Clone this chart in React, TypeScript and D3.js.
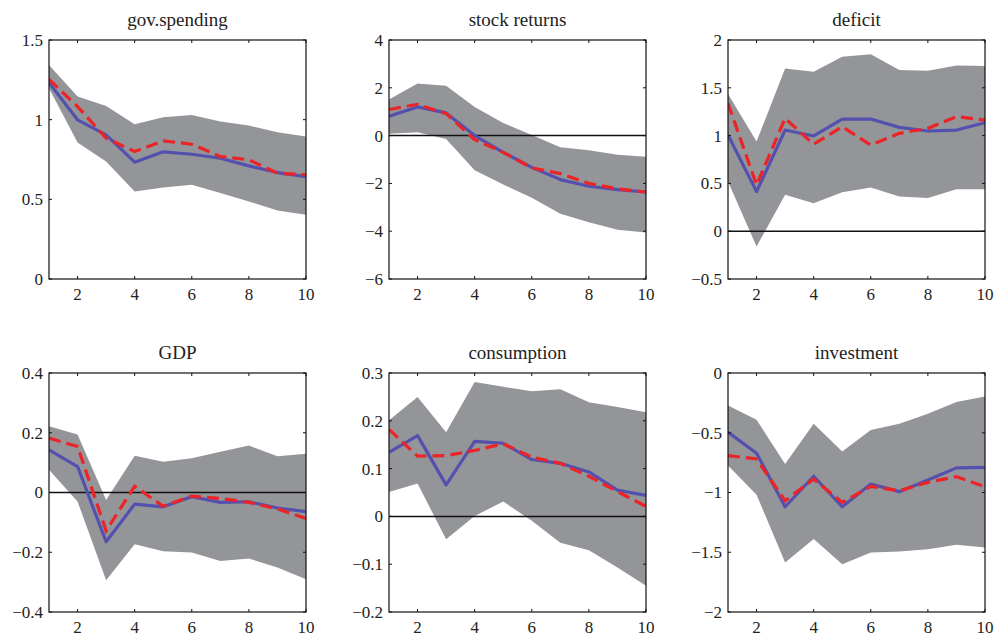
import React from "react";
import * as d3 from "d3";

// Impulse-response panels: horizon 1..10
const horizons = [1, 2, 3, 4, 5, 6, 7, 8, 9, 10];
const xTicks = [2, 4, 6, 8, 10];

const titles = ["gov.spending", "stock returns", "deficit", "GDP", "consumption", "investment"];

const yDomains: [number, number][] = [
  [0, 1.5],
  [-6, 4],
  [-0.5, 2],
  [-0.4, 0.4],
  [-0.2, 0.3],
  [-2, 0],
];

const yTicks: number[][] = [
  [0, 0.5, 1, 1.5],
  [-6, -4, -2, 0, 2, 4],
  [-0.5, 0, 0.5, 1, 1.5, 2],
  [-0.4, -0.2, 0, 0.2, 0.4],
  [-0.2, -0.1, 0, 0.1, 0.2, 0.3],
  [-2, -1.5, -1, -0.5, 0],
];

const bandUpper: number[][] = [
  [1.343, 1.145, 1.086, 0.971, 1.015, 1.03, 0.988, 0.963, 0.921, 0.894],
  [1.51, 2.18, 2.09, 1.2, 0.53, 0.02, -0.49, -0.61, -0.8, -0.89],
  [1.435, 0.937, 1.703, 1.668, 1.825, 1.852, 1.685, 1.678, 1.734, 1.727],
  [0.222, 0.194, -0.025, 0.123, 0.103, 0.115, 0.136, 0.157, 0.121, 0.13],
  [0.201, 0.25, 0.176, 0.281, 0.271, 0.262, 0.266, 0.239, 0.229, 0.218],
  [-0.271, -0.392, -0.761, -0.425, -0.657, -0.476, -0.425, -0.341, -0.243, -0.196],
];

const bandLower: number[][] = [
  [1.197, 0.857, 0.737, 0.549, 0.574, 0.591, 0.539, 0.487, 0.43, 0.403],
  [0.08, 0.14, -0.14, -1.45, -2.05, -2.6, -3.27, -3.63, -3.94, -4.05],
  [0.519, -0.16, 0.38, 0.293, 0.408, 0.457, 0.363, 0.348, 0.439, 0.439],
  [0.076, -0.03, -0.294, -0.173, -0.197, -0.201, -0.229, -0.221, -0.251, -0.29],
  [0.051, 0.069, -0.048, 0.001, 0.031, -0.009, -0.055, -0.071, -0.107, -0.145],
  [-0.775, -1.018, -1.586, -1.39, -1.6, -1.502, -1.494, -1.474, -1.438, -1.46],
];

const blueSeries: number[][] = [
  [1.232, 0.999, 0.905, 0.733, 0.798, 0.783, 0.758, 0.71, 0.668, 0.643],
  [0.81, 1.2, 0.95, 0.0, -0.7, -1.33, -1.84, -2.12, -2.26, -2.36],
  [1.006, 0.414, 1.058, 0.996, 1.173, 1.173, 1.086, 1.048, 1.058, 1.135],
  [0.143, 0.087, -0.165, -0.039, -0.048, -0.014, -0.033, -0.031, -0.052, -0.064],
  [0.134, 0.169, 0.066, 0.157, 0.153, 0.119, 0.111, 0.093, 0.055, 0.044],
  [-0.495, -0.671, -1.119, -0.864, -1.119, -0.929, -0.993, -0.895, -0.794, -0.789],
];

const redSeries: number[][] = [
  [1.253, 1.082, 0.884, 0.8, 0.867, 0.846, 0.769, 0.748, 0.664, 0.654],
  [1.09, 1.31, 0.92, -0.17, -0.7, -1.35, -1.59, -2.0, -2.23, -2.36],
  [1.337, 0.484, 1.18, 0.909, 1.093, 0.902, 1.024, 1.076, 1.198, 1.163],
  [0.182, 0.154, -0.128, 0.021, -0.046, -0.012, -0.02, -0.033, -0.055, -0.087],
  [0.182, 0.126, 0.127, 0.138, 0.152, 0.124, 0.111, 0.084, 0.052, 0.021],
  [-0.691, -0.719, -1.069, -0.887, -1.083, -0.949, -0.985, -0.915, -0.867, -0.951],
];

const W = 996;
const H = 639;
const colLeft = [49, 389, 728];
const rowTop = [40, 373];
const PW = 257;
const PH = 239;

const FONT = "Liberation Serif, DejaVu Serif, serif";
const BAND = "#939598";
const BLUE = "#5451ae";
const RED = "#ec2427";

function fmt(v: number): string {
  const s = String(Math.round(v * 100) / 100);
  return s.replace("-", "\u2212");
}

function Panel({ idx }: { idx: number }) {
  const col = idx % 3;
  const row = Math.floor(idx / 3);
  const left = colLeft[col];
  const top = rowTop[row];
  const x = d3.scaleLinear().domain([1, 10]).range([0, PW]);
  const y = d3.scaleLinear().domain(yDomains[idx]).range([PH, 0]);

  const area = d3
    .area<number>()
    .x((_, i) => x(horizons[i]))
    .y0((_, i) => y(bandLower[idx][i]))
    .y1((d) => y(d));
  const line = d3
    .line<number>()
    .x((_, i) => x(horizons[i]))
    .y((d) => y(d));

  const clipId = `clip-${idx}`;
  const [d0, d1] = yDomains[idx];
  const showZero = d0 < 0 && d1 > 0;
  const tl = 3;

  return (
    <g transform={`translate(${left},${top})`}>
      <defs>
        <clipPath id={clipId}>
          <rect x={0} y={0} width={PW} height={PH} />
        </clipPath>
      </defs>
      <text
        x={PW / 2}
        y={-14}
        textAnchor="middle"
        style={{ fontFamily: FONT, fontSize: 19 }}
        fill="#222"
      >
        {titles[idx]}
      </text>
      <g clipPath={`url(#${clipId})`}>
        <path d={area(bandUpper[idx]) ?? ""} fill={BAND} />
        {showZero && (
          <line x1={0} x2={PW} y1={y(0)} y2={y(0)} stroke="#111" strokeWidth={1.5} />
        )}
        <path
          d={line(blueSeries[idx]) ?? ""}
          fill="none"
          stroke={BLUE}
          strokeWidth={3.2}
          strokeLinejoin="round"
        />
        <path
          d={line(redSeries[idx]) ?? ""}
          fill="none"
          stroke={RED}
          strokeWidth={3.2}
          strokeDasharray="12 6"
        />
      </g>
      <rect x={0} y={0} width={PW} height={PH} fill="none" stroke="#111" strokeWidth={1.2} />
      {xTicks.map((t) => (
        <g key={`x${t}`}>
          <line x1={x(t)} x2={x(t)} y1={PH} y2={PH - tl} stroke="#111" strokeWidth={1} />
          <line x1={x(t)} x2={x(t)} y1={0} y2={tl} stroke="#111" strokeWidth={1} />
          <text
            x={x(t)}
            y={PH + 21}
            textAnchor="middle"
            style={{ fontFamily: FONT, fontSize: 17 }}
            fill="#222"
          >
            {t}
          </text>
        </g>
      ))}
      {yTicks[idx].map((t) => (
        <g key={`y${t}`}>
          <line x1={0} x2={tl} y1={y(t)} y2={y(t)} stroke="#111" strokeWidth={1} />
          <line x1={PW} x2={PW - tl} y1={y(t)} y2={y(t)} stroke="#111" strokeWidth={1} />
          <text
            x={-6}
            y={y(t)}
            dy="0.35em"
            textAnchor="end"
            style={{ fontFamily: FONT, fontSize: 17 }}
            fill="#222"
          >
            {fmt(t)}
          </text>
        </g>
      ))}
    </g>
  );
}

export default function App() {
  return (
    <svg
      width={W}
      height={H}
      viewBox={`0 0 ${W} ${H}`}
      style={{ position: "absolute", left: 0, top: 0, display: "block", background: "#fff" }}
    >
      {titles.map((_, i) => (
        <Panel key={i} idx={i} />
      ))}
    </svg>
  );
}
